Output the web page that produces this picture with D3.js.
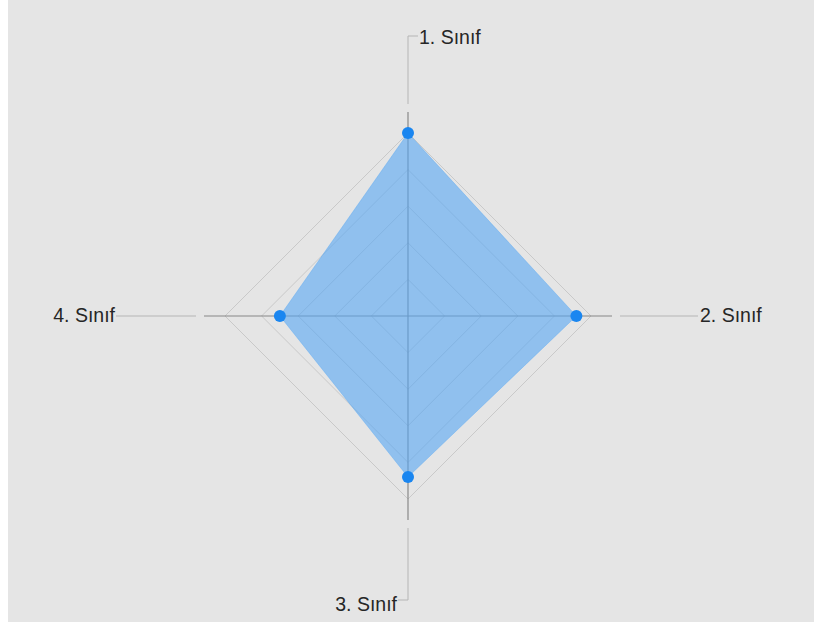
<!DOCTYPE html>
<html>
<head>
<meta charset="utf-8">
<script src="https://cdn.jsdelivr.net/npm/d3@7/dist/d3.min.js"></script>
<style>
  html, body { margin: 0; padding: 0; background: #ffffff; }
  svg { display: block; }
</style>
</head>
<body>
<svg id="chart" width="814" height="622"></svg>
<script>
const categories = ["1. Sınıf", "2. Sınıf", "3. Sınıf", "4. Sınıf"];
const values = [100, 92, 88, 70];
const ringTicks = [20, 40, 60, 80, 100];
const maxValue = 100;

const W = 814, H = 622;
const cx = 408, cy = 316;
const R = 183;          // outer ring radius
const axisLen = 204;    // axis line length
const leaderGap = 8;
const leaderLen = [68, 78, 72, 80];

const svg = d3.select("#chart");
svg.append("rect").attr("x", 8).attr("y", 0).attr("width", W - 8).attr("height", H).attr("fill", "#e5e5e5");

const g = svg.append("g").attr("transform", `translate(${cx},${cy})`);

const angle = d3.scaleBand().domain(categories).range([0, 2 * Math.PI]).paddingInner(0).paddingOuter(0);
const r = d3.scaleLinear().domain([0, maxValue]).range([0, R]);
const ang = c => angle(c);   // 0 = up, clockwise
const px = (a, rad) => Math.sin(a) * rad;
const py = (a, rad) => -Math.cos(a) * rad;

// grid rings
ringTicks.forEach(t => {
  g.append("path")
    .attr("d", d3.lineRadial().angle(c => ang(c)).radius(() => r(t)).curve(d3.curveLinearClosed)(categories))
    .attr("fill", "none")
    .attr("stroke", "#c9c9c9")
    .attr("stroke-width", 1);
});

// axes
categories.forEach(c => {
  const a = ang(c);
  g.append("line")
    .attr("x1", 0).attr("y1", 0)
    .attr("x2", px(a, axisLen)).attr("y2", py(a, axisLen))
    .attr("stroke", "#888888").attr("stroke-width", 1.2);
});

// area
const area = d3.lineRadial()
  .angle((d, i) => ang(categories[i]))
  .radius(d => r(d))
  .curve(d3.curveLinearClosed);
g.append("path")
  .attr("d", area(values))
  .attr("fill", "rgb(86,167,244)")
  .attr("fill-opacity", 0.6)
  .attr("stroke", "rgb(86,167,244)")
  .attr("stroke-opacity", 0.4)
  .attr("stroke-width", 1);

// points
g.selectAll("circle.pt").data(values).enter().append("circle")
  .attr("class", "pt")
  .attr("cx", (d, i) => px(ang(categories[i]), r(d)))
  .attr("cy", (d, i) => py(ang(categories[i]), r(d)))
  .attr("r", 6)
  .attr("fill", "#1a86f0");

// leaders and labels
categories.forEach((c, i) => {
  const a = ang(c);
  const r0 = axisLen + leaderGap, r1 = r0 + leaderLen[i];
  const x0 = px(a, r0), y0 = py(a, r0), x1 = px(a, r1), y1 = py(a, r1);
  let d = `M${x0},${y0}L${x1},${y1}`;
  let tx, ty, anchor;
  if (i === 0) { d += `l10,0`; tx = x1 + 11; ty = y1 + 3; anchor = "start"; }
  else if (i === 2) { d += `l-10,0`; tx = x1 - 11; ty = y1 + 6; anchor = "end"; }
  else if (i === 1) { tx = x1 + 2; ty = y1 + 1; anchor = "start"; }
  else { tx = x1 - 1; ty = y1 + 1; anchor = "end"; }
  g.append("path").attr("d", d).attr("fill", "none").attr("stroke", "#b5b5b5").attr("stroke-width", 1);
  g.append("text")
    .attr("x", tx).attr("y", ty)
    .attr("text-anchor", anchor)
    .attr("dominant-baseline", "middle")
    .attr("font-family", "Liberation Sans, Arial, sans-serif")
    .attr("font-size", 19.5)
    .attr("fill", "#262626")
    .text(c);
});
</script>
</body>
</html>
